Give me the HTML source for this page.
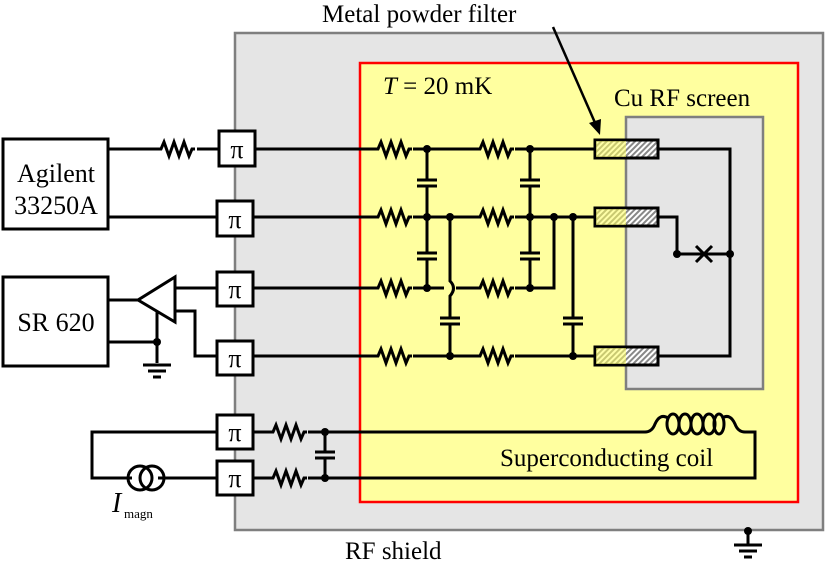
<!DOCTYPE html>
<html><head><meta charset="utf-8"><style>body{margin:0;background:#fff}svg{display:block}text{font-family:"Liberation Serif",serif}</style></head><body>
<svg width="830" height="570" viewBox="0 0 830 570" xmlns="http://www.w3.org/2000/svg">
<defs>
<symbol id="r" overflow="visible"><path d="M0,0 l3,0 l3,-7 l5,14 l5,-14 l5,14 l5,-14 l5,14 l3,-7 l3,0" fill="none" stroke="#000" stroke-width="3"/></symbol>
<pattern id="h" width="4" height="4" patternUnits="userSpaceOnUse" patternTransform="rotate(45)"><rect width="4" height="4" fill="#fff"/><rect width="2" height="4" fill="#888"/></pattern>
</defs>
<rect x="235" y="33" width="588" height="497" fill="#e5e5e5" stroke="#7f7f7f" stroke-width="2.5"/>
<rect x="360" y="63" width="438" height="439" fill="#ffff9f" stroke="#f00" stroke-width="2.5"/>
<rect x="626" y="117" width="137" height="272" fill="#e5e5e5" stroke="#7f7f7f" stroke-width="2.5"/>
<g stroke="#000" stroke-width="3" fill="none">
<path d="M108,149H158M197,149H219M255,149H375M413,149H477M515,149H594"/>
<path d="M108,217H217M253,217H375M413,217H477M515,217H594"/>
<path d="M253,288H375M413,288H444M456,288H477M515,288H554V217"/>
<path d="M253,356H375M413,356H477M515,356H594"/>
<path d="M427,149V180M427,186V253M427,259V288M417,180H437M417,186H437M417,253H437M417,259H437"/>
<path d="M530,149V180M530,186V253M530,259V288M520,180H540M520,186H540M520,253H540M520,259H540"/>
<path d="M450,217V281Q457,288 450,296V318M450,324V356M440,318H460M440,324H460"/>
<path d="M573,217V318M573,324V356M563,318H583M563,324H583"/>
<path d="M658,149H730V356H658M658,217H677V254H730M696,246L712,262M712,246L696,262"/>
<path d="M175,277V322L138,300Z M108,300H138M175,288H217M175,311H195V356H217M157,312V342M108,342H157M157,342V363M143,365H171M148,371H166M153,377H161"/>
<path d="M217,432H92V478H132M158,478H217M253,432H270M308,432H645M253,478H270M308,478H755V432H745M325,432V452M325,458V478M315,452H335M315,458H335"/>
<path d="M645,432Q652,432 655,424Q660,413 668,418M722,418Q730,413 735,424Q738,432 745,432"/>
<ellipse cx="673" cy="424" rx="6" ry="10"/><ellipse cx="685" cy="424" rx="6" ry="10"/><ellipse cx="697" cy="424" rx="6" ry="10"/><ellipse cx="709" cy="424" rx="6" ry="10"/><ellipse cx="719" cy="424" rx="5" ry="10"/>
<circle cx="140" cy="478" r="12"/><circle cx="152" cy="478" r="12"/>
<path d="M748,531V545M734,545H762M739,551H757M744,557H752"/>
<path d="M553,27L596,125" stroke-width="2.5"/>
</g>
<path d="M600,135L589,123L601,119Z" fill="#000"/>
<g fill="#000">
<circle cx="427" cy="149" r="4"/><circle cx="530" cy="149" r="4"/>
<circle cx="427" cy="217" r="4"/><circle cx="450" cy="217" r="4"/><circle cx="530" cy="217" r="4"/><circle cx="554" cy="217" r="4"/><circle cx="573" cy="217" r="4"/>
<circle cx="427" cy="288" r="4"/><circle cx="530" cy="288" r="4"/>
<circle cx="450" cy="356" r="4"/><circle cx="573" cy="356" r="4"/>
<circle cx="677" cy="254" r="4"/><circle cx="730" cy="254" r="4"/>
<circle cx="157" cy="342" r="4"/><circle cx="325" cy="432" r="4"/><circle cx="325" cy="478" r="4"/>
<circle cx="748" cy="531" r="4"/>
</g>
<use href="#r" x="158" y="149"/>
<use href="#r" x="375" y="149"/><use href="#r" x="477" y="149"/>
<use href="#r" x="375" y="217"/><use href="#r" x="477" y="217"/>
<use href="#r" x="375" y="288"/><use href="#r" x="477" y="288"/>
<use href="#r" x="375" y="356"/><use href="#r" x="477" y="356"/>
<use href="#r" x="270" y="432"/><use href="#r" x="270" y="478"/>
<g stroke="#000" stroke-width="3">
<rect x="595" y="140" width="63" height="18" fill="url(#h)"/>
<rect x="595" y="208" width="63" height="18" fill="url(#h)"/>
<rect x="595" y="347" width="63" height="18" fill="url(#h)"/>
</g>
<g fill="#ffff60" opacity="0.55">
<rect x="596" y="141" width="30" height="16"/><rect x="596" y="209" width="30" height="16"/><rect x="596" y="348" width="30" height="16"/>
</g>
<g fill="#fff" stroke="#000" stroke-width="3">
<rect x="3" y="139" width="105" height="90"/>
<rect x="3" y="277" width="105" height="89"/>
<rect x="219" y="131" width="36" height="35"/>
<rect x="217" y="201" width="36" height="35"/>
<rect x="217" y="272" width="36" height="34"/>
<rect x="217" y="341" width="36" height="34"/>
<rect x="217" y="415" width="36" height="34"/>
<rect x="217" y="461" width="36" height="34"/>
</g>
<g font-size="26" text-anchor="middle">
<text x="237" y="158">π</text><text x="235" y="228">π</text><text x="235" y="298">π</text><text x="235" y="367">π</text><text x="235" y="441">π</text><text x="235" y="487">π</text>
<text x="56" y="182">Agilent</text><text x="56" y="214">33250A</text>
<text x="56" y="331">SR 620</text>
</g>
<g font-size="25">
<text x="322" y="22">Metal powder filter</text>
<text x="383" y="94"><tspan font-style="italic">T</tspan> = 20 mK</text>
<text x="614" y="106">Cu RF screen</text>
<text x="500" y="466">Superconducting coil</text>
<text x="345" y="559">RF shield</text>
<text x="112" y="512" font-size="28" font-style="italic">I</text><text x="124" y="518" font-size="13">magn</text>
</g>
</svg>
</body></html>
